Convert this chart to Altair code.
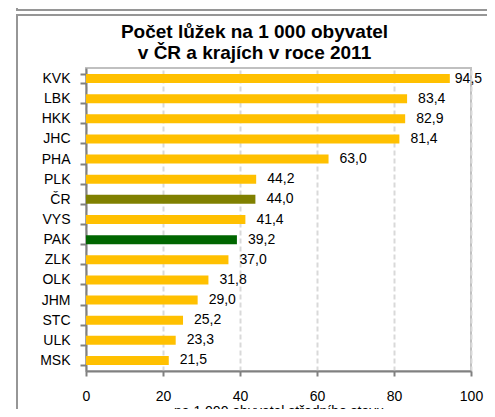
import altair as alt
import pandas as pd

kategorie = ["KVK", "LBK", "HKK", "JHC", "PHA", "PLK", "ČR", "VYS", "PAK",
             "ZLK", "OLK", "JHM", "STC", "ULK", "MSK"]
hodnoty = [94.5, 83.4, 82.9, 81.4, 63.0, 44.2, 44.0, 41.4, 39.2,
           37.0, 31.8, 29.0, 25.2, 23.3, 21.5]
skupiny = ["kraj", "kraj", "kraj", "kraj", "kraj", "kraj", "ČR", "kraj", "PAK",
           "kraj", "kraj", "kraj", "kraj", "kraj", "kraj"]
x_ticks = [0, 20, 40, 60, 80, 100]

df = pd.DataFrame({"kat": kategorie, "hodnota": hodnoty, "skupina": skupiny})

FONT = "Liberation Sans"

y_enc = alt.Y(
    "kat:N", sort=kategorie, title=None,
    scale=alt.Scale(paddingInner=0.55, paddingOuter=0.3),
    axis=alt.Axis(labelFontSize=14, labelColor="#000000", labelFont=FONT,
                  domainColor="#808080", domainWidth=2, ticks=True,
                  tickColor="#808080", tickWidth=2, tickSize=6,
                  tickBand="extent", labelPadding=10, grid=False),
)
x_enc = alt.X(
    "hodnota:Q", scale=alt.Scale(domain=[0, 100], nice=False),
    title="na 1 000 obyvatel středního stavu",
    axis=alt.Axis(values=x_ticks, labelFontSize=14, labelColor="#000000",
                  labelFont=FONT, labelFlush=False, domainColor="#808080",
                  domainWidth=2, tickColor="#808080", tickWidth=2, tickSize=5,
                  labelPadding=13, grid=True, gridColor="#d9d9d9",
                  gridWidth=2, gridDash=[5, 3], titleFont=FONT,
                  titleFontSize=14, titleFontWeight="normal",
                  titleColor="#000000", titlePadding=1),
)

base = alt.Chart(df)

bars = base.mark_bar(size=9).encode(
    y=y_enc, x=x_enc,
    color=alt.Color("skupina:N",
                    scale=alt.Scale(domain=["kraj", "ČR", "PAK"],
                                    range=["#FFC000", "#808000", "#006600"]),
                    legend=None),
)

labels = base.transform_filter("datum.hodnota < 90").transform_calculate(
    label="replace(format(datum.hodnota, '.1f'), '.', ',')"
).mark_text(align="left", dx=11, fontSize=14, font=FONT, color="#000000").encode(
    y=y_enc, x=x_enc, text="label:N"
)
labels_hi = base.transform_filter("datum.hodnota >= 90").transform_calculate(
    label="replace(format(datum.hodnota, '.1f'), '.', ',')"
).mark_text(align="left", dx=5, fontSize=14, font=FONT, color="#000000").encode(
    y=y_enc, x=x_enc, text="label:N"
)

one = alt.Data(values=[{"a": 1}])
frame_black = alt.Chart(one).mark_rule(color="#000000", strokeWidth=3).encode(
    x=alt.value(-84.5), y=alt.value(-70), y2=alt.value(360))
frame_left_top = alt.Chart(one).mark_rule(color="#969696", strokeWidth=2).encode(
    x=alt.value(-69), y=alt.value(-70), y2=alt.value(-58))
frame_left = alt.Chart(one).mark_rule(color="#969696", strokeWidth=2).encode(
    x=alt.value(-69), y=alt.value(-54), y2=alt.value(360))
frame_h1 = alt.Chart(one).mark_rule(color="#969696", strokeWidth=2).encode(
    x=alt.value(-70), x2=alt.value(420), y=alt.value(-58))
frame_h2 = alt.Chart(one).mark_rule(color="#969696", strokeWidth=2).encode(
    x=alt.value(-70), x2=alt.value(420), y=alt.value(-53))

chart = alt.layer(
    bars, labels, labels_hi,
    frame_black, frame_left_top, frame_left, frame_h1, frame_h2,
).properties(
    width=385, height=303,
    autosize=alt.AutoSizeParams(type="none"),
    padding={"left": 78, "top": 60, "right": 16, "bottom": 38},
    title=alt.TitleParams(
        text=["Počet lůžek na 1 000 obyvatel", "v ČR a krajích v roce 2011"],
        fontSize=19, font=FONT, fontWeight="bold", color="#000000",
        anchor="middle", frame="group", dx=-24, dy=74, offset=8, lineHeight=21,
    ),
).configure_view(stroke="#c0c0c0", strokeWidth=2)

chart.save("out.html", embed_options={"renderer": "svg", "actions": False})
